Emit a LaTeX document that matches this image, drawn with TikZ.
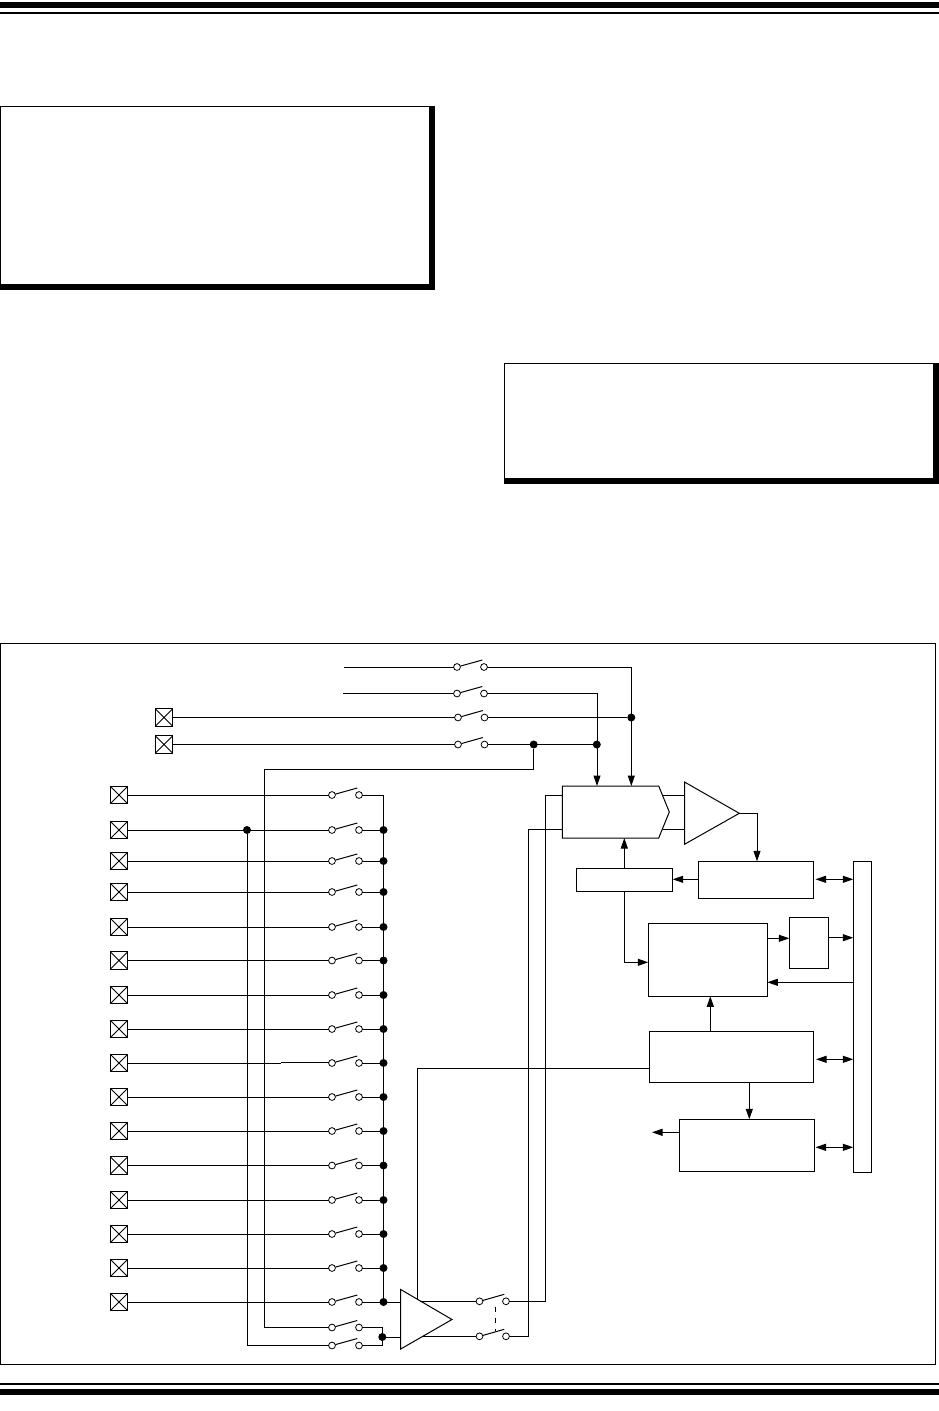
\documentclass[tikz,border=0pt]{standalone}
\usetikzlibrary{arrows.meta,calc}
\tikzset{
  x=1pt,y=-1pt,
  wire/.style={line width=1pt,line cap=butt,line join=miter},
  arr/.style={wire,-{Triangle[length=10.5pt,width=7pt]}},
  darr/.style={wire,{Triangle[length=10.5pt,width=7pt]}-{Triangle[length=10.5pt,width=7pt]}},
  blockbox/.style={draw,wire,fill=white,inner sep=0pt,outer sep=0pt},
  term/.style={draw,line width=0.8pt,fill=white,circle,inner sep=0pt,outer sep=0pt,minimum size=6.8pt},
  junction/.style={fill=black,circle,inner sep=0pt,outer sep=0pt,minimum size=8pt},
  pad/.style={draw,line width=1pt,fill=white,inner sep=0pt,outer sep=0pt,minimum size=17.5pt,
    path picture={\draw[line width=0.75pt] (path picture bounding box.south west)--(path picture bounding box.north east)
      (path picture bounding box.north west)--(path picture bounding box.south east);}},
}
\newcommand{\blk}[5]{\node[blockbox,minimum width={#4-#2},minimum height={#5-#3},anchor=north west] (#1) at (#2,#3) {};}
% \swit{name}{xL}{xR}{y}
\newcommand{\swit}[4]{%
  \node[term] (#1-a) at (#2,#4) {};
  \node[term] (#1-b) at (#3,#4) {};
  \coordinate (#1-c) at ($(#3,#4)+(-1.7,-7)$);
  \draw[wire] ($(#2,#4)+(3.4,-0.9)$) -- (#1-c);
}
\begin{document}
\begin{tikzpicture}
\useasboundingbox (0,0) rectangle (939,1411);
\fill[white] (0,0) rectangle (939,1411);
% page rules
\fill[black] (0,2) rectangle (939,8);
\fill[black] (0,12) rectangle (939,14);
\fill[black] (0,1383.3) rectangle (939,1385.3);
\fill[black] (0,1389) rectangle (939,1395);
% note boxes
\draw[line width=1pt] (0.5,106.5) rectangle (432,287);
\fill[black] (429,106) rectangle (435,290);
\fill[black] (0,284) rectangle (435,290);
\draw[line width=1pt] (504.5,363.5) rectangle (936,481);
\fill[black] (933.3,363) rectangle (939,484);
\fill[black] (504,478) rectangle (939,484);
% frame
\draw[line width=1pt] (0.5,643.5) rectangle (935.5,1364.5);

% upper switches
\coordinate (st1) at (344,667);
\coordinate (st2) at (343,693.5);
\swit{t1}{457}{484}{667}
\swit{t2}{457}{484}{693.5}
\swit{t3}{458}{484.5}{717.5}
\swit{t4}{458}{484.5}{744.5}
\node[pad] (p1) at (164,717.5) {};
\node[pad] (p2) at (164,744.5) {};
\draw[wire] (st1) -- (t1-a);
\draw[wire] (st2) -- (t2-a);
\draw[wire] (p1) -- (t3-a);
\draw[wire] (p2) -- (t4-a);

% ADC
\coordinate (adc-nw) at (562.3,786);
\coordinate (adc-ne) at (658.7,786);
\coordinate (adc-tip) at (669.3,812);
\coordinate (adc-se) at (658.7,838);
\coordinate (adc-sw) at (562.3,838);
\draw[wire,fill=white] (adc-nw) -- (adc-ne) -- (adc-tip) -- (adc-se) -- (adc-sw) -- cycle;
\coordinate (adc-a) at (631.3,786);
\coordinate (adc-b) at (597,786);
\coordinate (adc-c) at (624.3,838);
\coordinate (adc-l1) at (562.3,795.3);
\coordinate (adc-l2) at (562.3,829.3);
\coordinate (adc-r1) at (663,795.3);
\coordinate (adc-r2) at (663,829.3);

\node[junction] (j1) at (631.3,717.5) {};
\node[junction] (j2) at (596.8,744.5) {};
\node[junction] (j3) at (533.7,744.5) {};
\draw[arr] (t1-b) -| (adc-a);
\draw[arr] (t2-b) -| (adc-b);
\draw[wire] (t3-b) -- (j1);
\draw[wire] (t4-b) -- (j2);

% comparator
\coordinate (cmp-t) at (684.5,782);
\coordinate (cmp-tip) at (739.3,813.3);
\coordinate (cmp-b) at (684.5,844.3);
\draw[wire] (adc-r1) -- (684.5,795.3);
\draw[wire] (adc-r2) -- (684.5,829.3);
\draw[wire,fill=white] (cmp-t) -- (cmp-tip) -- (cmp-b) -- cycle;

% blocks
\blk{bB}{698.3}{861.3}{813.3}{898.3}
\blk{bC}{576.3}{868.3}{672.7}{891.3}
\blk{bD}{648.3}{923.3}{767.3}{996.3}
\blk{bE}{789.3}{917.3}{828.3}{968.3}
\blk{bus}{853.3}{861.3}{871.3}{1172.3}
\blk{bF}{649.3}{1031.3}{813.3}{1082.3}
\blk{bG}{679.3}{1119.3}{814.3}{1171.3}

\coordinate (bB-in) at (757,861.3);
\draw[arr] (cmp-tip) -| (bB-in);
\draw[arr] (bB.west |- 0,879.3) -- (bC.east |- 0,879.3);
\draw[arr] (bC.north -| adc-c) -- (adc-c);
\coordinate (bD-in) at (648.3,962.3);
\draw[arr] (bC.south -| adc-c) |- (bD-in);
\draw[darr] (815.5,879.3) -- (bus.west |- 0,879.3);
\draw[arr] (bD.east |- 0,938.3) -- (bE.west |- 0,938.3);
\draw[arr] (bE.east |- 0,937.7) -- (bus.west |- 0,937.7);
\draw[arr] (bus.west |- 0,982.3) -- (bD.east |- 0,982.3);
\draw[arr] (bF.north -| 710.3,0) -- (bD.south -| 710.3,0);
\draw[darr] (816,1059.3) -- (bus.west |- 0,1059.3);
\draw[arr] (bF.south -| 749.3,0) -- (bG.north -| 749.3,0);
\coordinate (gout) at (652,1132.3);
\draw[arr] (bG.west |- 0,1132.3) -- (gout);
\draw[darr] (815.5,1147.3) -- (bus.west |- 0,1147.3);

% input rows
\foreach \i/\yy in {1/795,2/830,3/861,4/892,5/927,6/960.5,7/995,8/1029,9/1063,10/1097,11/1131,12/1165.5,13/1200,14/1234,15/1268,16/1302}{
  \node[pad] (q\i) at (119,\yy) {};
  \swit{s\i}{332}{359}{\yy}
  \node[inner sep=0pt,outer sep=0pt] (r\i) at (383.5,\yy) {};
  \ifnum\i=9\else\draw[wire] (q\i) -- (s\i-a);\fi
  \draw[wire] (s\i-b) -- (r\i);
}
\coordinate (k9) at (281,1063);
\draw[wire] (q9) -- (k9);
\draw[wire] ($(k9)+(0,-0.5)$) -- ($(s9-a.west)+(0,-0.5)$);
\draw[wire] (r1.center) -- (r16.center);
\foreach \i in {2,...,16}{\node[junction] at (r\i) {};}

% extra switches
\swit{x1}{332}{359}{1327.5}
\swit{x2}{332}{359}{1345.5}
\node[junction] (j4) at (247,830) {};
\node[junction] (j5) at (382.3,1337) {};
\draw[wire] (j3) |- (264.6,769.3) |- (x1-a);
\draw[wire] (j4) |- (x2-a);
\draw[wire] (x1-b) -| (j5);
\draw[wire] (x2-b) -| (j5);

% amplifier
\coordinate (amp-t) at (400.7,1289.5);
\coordinate (amp-tip) at (452,1319.5);
\coordinate (amp-b) at (400.7,1349);
\draw[wire] (r16) -- (amp-t |- r16);
\draw[wire] (j5) -- (amp-t |- j5);
\draw[wire,fill=white] (amp-t) -- (amp-tip) -- (amp-b) -- cycle;

% output switches
\swit{o1}{479.5}{506}{1301.3}
\swit{o2}{479.5}{506}{1336.3}
\coordinate (amp-o1) at (420.4,1301.3);
\coordinate (amp-o2) at (423,1336.3);
\draw[wire] (amp-o1) -- (o1-a);
\draw[wire] (amp-o2) -- (o2-a);
\draw[wire,dash pattern=on 5pt off 6pt] (495.3,1306.7) -- (495.3,1331);
\draw[wire] (o1-b) -| (545.5,795.3) -- (adc-l1);
\draw[wire] (o2-b) -| (528,829.3) -- (adc-l2);
% control line
\coordinate (amp-ctl) at (417.3,1299.2);
\draw[wire] (bF.west |- 0,1068.4) -| (amp-ctl);
\end{tikzpicture}
\end{document}
